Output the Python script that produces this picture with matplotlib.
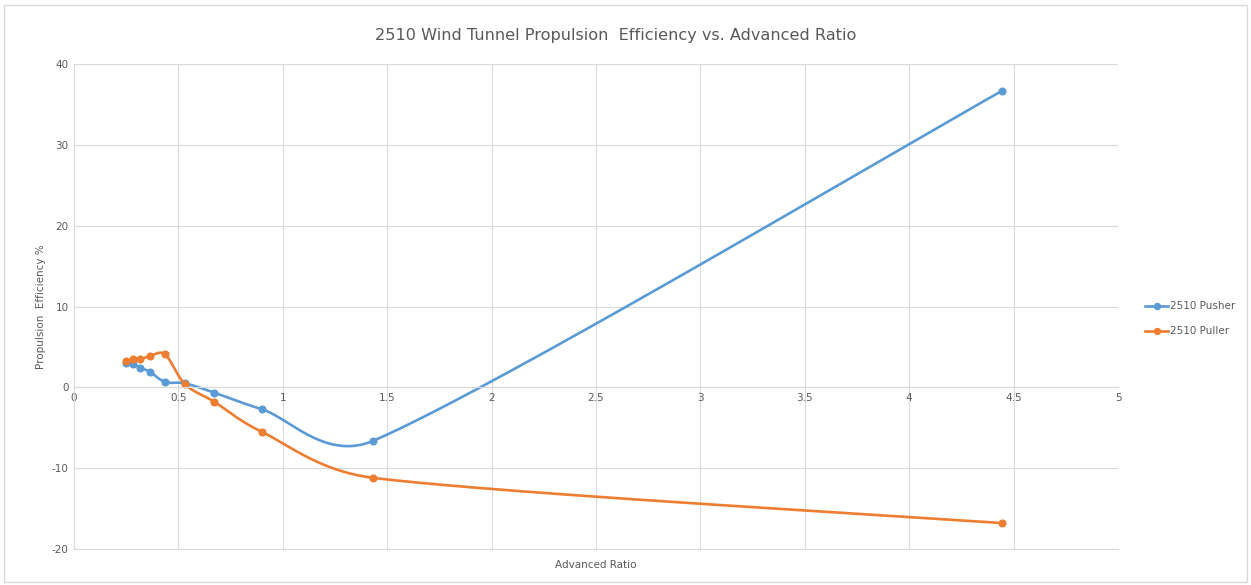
import numpy as np
import matplotlib.pyplot as plt
from matplotlib.patches import Rectangle

# Advanced ratio (J) and measured propulsion efficiency (%)
ratio = [0.249, 0.284, 0.316, 0.362, 0.436, 0.532, 0.672, 0.899, 1.434, 4.446]
pusher = [3.0, 2.84, 2.43, 1.94, 0.66, 0.49, -0.66, -2.7, -6.6, 36.7]
puller = [3.25, 3.45, 3.45, 3.86, 4.07, 0.37, -1.8, -5.5, -11.2, -16.8]

BLUE = '#5B9BD5'
ORANGE = '#ED7D31'
GRID = '#D9D9D9'
TEXT = '#595959'

plt.rcParams['axes.unicode_minus'] = False


def _handle(vec, seg_len, limit=0.45):
    # Catmull-Rom handle, shortened when it would overshoot a short segment
    h = vec / 6.0
    mag = np.hypot(*h)
    if mag > limit * seg_len and mag > 0:
        h = h * (limit * seg_len / mag)
    return h


def smooth_curve(ax, xs, ys, n=60):
    """Bezier smoothing in screen space, like a spreadsheet smoothed line."""
    pts = ax.transData.transform(np.column_stack([xs, ys]))
    last = len(pts) - 1
    out = [pts[0]]
    for i in range(last):
        p0 = pts[max(i - 1, 0)]
        p1 = pts[i]
        p2 = pts[i + 1]
        p3 = pts[min(i + 2, last)]
        l12 = np.hypot(*(p2 - p1))
        c1 = p1 + _handle(p2 - p0, l12)
        c2 = p2 - _handle(p3 - p1, l12)
        t = np.linspace(0, 1, n)[1:, None]
        seg = ((1 - t) ** 3 * p1 + 3 * (1 - t) ** 2 * t * c1
               + 3 * (1 - t) * t ** 2 * c2 + t ** 3 * p2)
        out.extend(seg)
    data = ax.transData.inverted().transform(np.array(out))
    return data[:, 0], data[:, 1]


fig = plt.figure(figsize=(12.51, 5.85), dpi=100)
fig.patches.append(Rectangle((0.003, 0.005), 0.994, 0.987, transform=fig.transFigure,
                             fill=False, edgecolor=GRID, linewidth=1))
ax = fig.add_axes([0.0592, 0.0615, 0.8345, 0.8291])
ax.set_xlim(0, 5)
ax.set_ylim(-20, 40)
ax.set_xticks(np.arange(0, 5.01, 0.5))
ax.set_yticks(np.arange(-20, 41, 10))
ax.set_xticklabels(['0', '0.5', '1', '1.5', '2', '2.5', '3', '3.5', '4', '4.5', '5'])
ax.grid(True, color=GRID, linewidth=0.8)
ax.axhline(-20, color=GRID, linewidth=0.8, clip_on=False, zorder=0.5)
ax.set_axisbelow(True)
for side in ['top', 'right']:
    ax.spines[side].set_visible(False)
ax.spines['left'].set_color(GRID)
ax.spines['bottom'].set_color(GRID)
ax.spines['bottom'].set_position(('data', 0))
ax.tick_params(length=0, labelsize=7.5, colors=TEXT, pad=4)

for ys, color, name in [(pusher, BLUE, '2510 Pusher'), (puller, ORANGE, '2510 Puller')]:
    sx, sy = smooth_curve(ax, ratio, ys)
    ax.plot(sx, sy, color=color, linewidth=1.9, solid_capstyle='round')
    ax.plot(ratio, ys, 'o', color=color, markersize=4.8)
    ax.plot([], [], '-o', color=color, linewidth=1.9, markersize=4.3, label=name)

ax.set_title('2510 Wind Tunnel Propulsion  Efficiency vs. Advanced Ratio',
             fontsize=11.6, color=TEXT, pad=17, x=0.519)
ax.set_ylabel('Propulsion  Efficiency %', fontsize=7.5, color=TEXT, labelpad=4)
ax.text(0.5, -0.022, 'Advanced Ratio', transform=ax.transAxes, ha='center',
        va='top', fontsize=7.5, color=TEXT)

fig.legend(loc='center left', bbox_to_anchor=(0.908, 0.455), frameon=False,
           fontsize=7.5, labelcolor=TEXT, handlelength=2.2, handletextpad=0.2,
           labelspacing=1.45)

fig.savefig('out.png', dpi=100)
